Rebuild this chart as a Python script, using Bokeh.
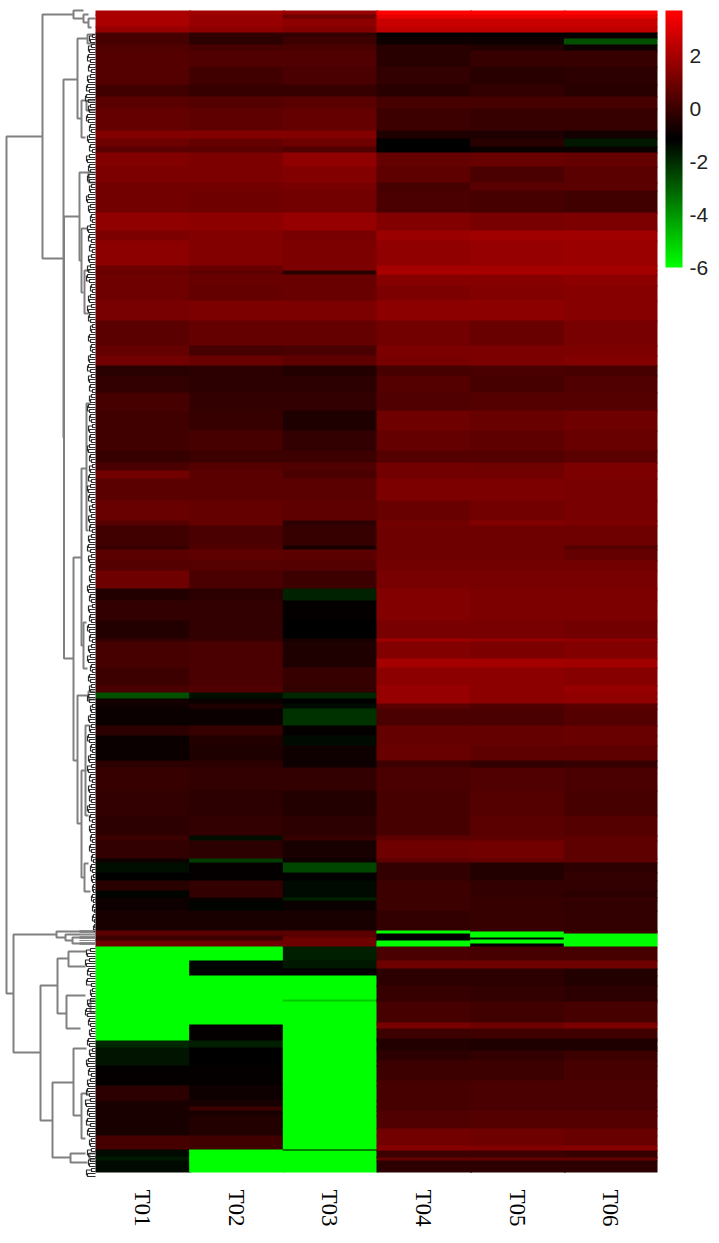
from bokeh.plotting import figure
from bokeh.models import (ColumnDataSource, LinearColorMapper, ColorBar, FixedTicker,
                          Range1d)
from bokeh.core.properties import value
from bokeh.embed import file_html
from bokeh.resources import INLINE
import math

samples = ["T01", "T02", "T03", "T04", "T05", "T06"]
first_row = 10

# number of rows in each horizontal band of the clustered heat map
band_rows = [
    4,4,8,6,4,2,6,6,16,18,12,12,22,8,8,6,14,16,8,
    22,18,10,25,5,4,11,15,20,25,10,10,10,
    17,18,20,20,12,8,8,22,20,5,20,4,11,
    10,18,12,20,18,3,17,9,18,7,6,5,5,17,10,10,
    15,7,23,25,20,5,18,4,10,8,10,7,3,10,20,
    1,2,2,2,2,1,3,3,14,8,7,10,14,2,21,2,4,10,2,7,3,10,5,15,5,15,6,4,5,13,7,10,4,1,6,1,3,12,
]
T01 = [
    2.08,2.08,2.08,1.70,.18,.18,.18,.37,.47,.47,.09,.56,.75,1.32,.94,.56,1.32,1.23,1.04,
    1.04,1.61,1.23,1.51,.94,.85,.94,.94,1.13,.56,.75,1.04,-.39,
    -.20,.18,.09,.09,-.10,.28,1.04,.56,.85,.47,.09,-.10,.56,
    .47,.94,-.48,-.20,-.48,-.20,.18,.18,-.01,.28,-2.67,-.77,-.86,-.96,-.29,-.96,
    -.96,-.29,-.10,-.20,-.29,-.01,-.20,-.86,-1.44,-1.15,-.39,-1.25,-.86,-.86,-.67,
    .56,.56,.56,-.01,-.01,-.01,.94,.94,-6,-6,-6,-6,-6,-6,-6,-6,-6,-6,-6,-1.91,-1.53,-1.53,-1.53,-1.05,-1.05,-.29,-.67,-.67,-.67,-.67,-.67,.18,.18,-1.34,-1.34,-1.63,-1.63,-1.34,
]
T02 = [
    1.89,1.70,1.70,1.51,-.20,-.29,-.29,.18,.37,.09,-.10,.47,.66,1.32,.75,.56,1.23,1.23,1.04,
    .94,1.51,1.32,1.32,.85,.66,.85,.75,1.23,.75,.18,.85,-.29,
    -.29,-.20,-.10,.18,-.01,.47,.56,.56,.75,.75,.28,.37,.66,
    .47,.28,-.29,-.20,-.20,-.10,.28,.28,.28,.37,-1.44,-.96,-.58,-.96,-.10,-.48,
    -.58,-.29,-.20,-.29,-.20,-1.44,-.29,-2.29,-1.05,-1.05,-.20,-.20,-.96,-1.25,-.67,
    .56,.56,.56,-.01,-.01,-.01,.94,.94,-6,-1.25,-1.25,-6,-6,-6,-6,-6,-1.05,-1.05,-1.05,-1.72,-1.15,-1.15,-1.15,-1.05,-1.05,-.86,-.67,-.01,-.67,-.48,-.48,.09,.09,-6,-6,-6,-6,-6,
]
T03 = [
    1.70,.94,1.51,1.32,-.20,-.01,-.01,.28,.37,.28,-.10,.56,.75,1.32,.94,.37,1.61,1.32,1.13,
    1.04,1.70,1.13,1.23,1.23,-.39,.85,.85,1.23,.75,.28,.66,-.48,
    -.29,-.20,-.58,-.20,-.01,.37,.28,.56,.66,-.29,-.10,-.67,.56,
    .47,-.01,-1.82,-1.05,-1.15,-.67,-.58,-.58,-.10,-.20,-1.91,-1.15,-1.34,-2.10,-1.05,-1.34,
    -.86,-.86,-.20,-.48,-.29,-.10,-.67,-.86,-2.48,-1.15,-1.34,-1.34,-1.82,-.96,-.67,
    .56,.56,.56,.56,.94,.94,.94,.94,-1.72,-1.63,-1.15,-6,-6,-4.95,-6,-6,-6,-6,-6,-6,-6,-6,-6,-6,-6,-6,-6,-6,-6,-6,-6,-6,-6,-1.15,-6,-6,-6,-6,
]
T04 = [
    3.7,3.22,2.65,2.46,-1.05,-.86,-.86,-.39,-.39,-.20,-.39,.18,-.01,-.58,-1.15,-1.15,.75,.66,.18,
    .28,1.32,1.80,1.61,1.99,2.08,1.42,1.23,1.51,1.04,1.23,1.13,.18,
    .47,.37,.94,.75,.47,1.04,1.04,1.23,.85,1.04,.94,.94,.94,
    1.04,1.13,1.32,1.32,1.13,1.89,1.32,1.99,1.51,1.70,1.70,1.70,.56,.28,.75,.75,
    .85,-.01,.28,.18,.18,.66,.94,.66,-.20,-.20,-.01,-.01,-.01,-.01,-.20,
    -6,-6,-1.15,-1.15,-1.15,-1.15,-6,-6,.28,.94,-.29,-.29,-.10,-.10,.18,1.13,1.13,-.01,-.48,-.48,-.48,-.29,-.01,-.01,.18,.18,.18,.18,.37,.37,1.04,1.04,1.42,1.42,-.01,-.01,.75,-.29,
]
T05 = [
    3.7,3.22,2.65,2.46,-1.05,-.86,-.86,-.48,-.10,-.39,-.20,.18,-.10,-.58,-.39,-.96,.85,.28,.56,
    .18,1.13,1.89,1.70,1.99,2.08,1.42,1.32,1.51,.85,1.23,1.23,.28,
    .18,.47,.85,.66,.47,.94,1.04,1.23,1.04,1.32,.94,.94,.94,
    1.04,1.13,1.23,1.23,1.13,1.70,1.23,1.99,1.51,1.51,1.51,1.51,.37,.28,.75,.75,
    .66,-.20,.37,.47,.56,.66,1.04,.75,-.48,-.48,-.20,-.20,-.10,-.10,-.10,
    -.01,-6,-6,-6,-1.15,-6,-6,-1.15,.18,.94,-.29,-.29,-.20,-.20,.09,.94,.94,.09,-.58,-.58,-.58,-.20,-.01,-.01,.28,.28,.28,.28,.47,.47,.94,.94,1.32,1.32,-.01,-.01,.75,-.29,
]
T06 = [
    3.7,3.22,2.65,2.46,-1.15,-.86,-2.67,-.86,-.10,-.29,-.39,.18,-.10,-.77,-1.63,-.96,.75,.56,.56,
    .09,1.23,1.89,1.80,1.99,1.99,1.51,1.42,1.42,1.13,1.23,1.32,.18,
    .37,.47,.94,.85,.56,1.23,1.23,1.13,1.13,1.23,.94,.47,.75,
    1.04,1.13,1.23,1.23,1.04,1.61,1.32,1.89,1.42,1.70,1.61,1.61,.56,.47,.85,.85,
    .66,-.10,.28,.18,.47,.66,.66,.66,-.29,-.20,-.20,-.29,-.10,-.20,-.20,
    -.01,-.01,-6,-6,-6,-6,-6,-6,.18,.94,-.48,-.48,-.29,-.29,.18,1.23,1.23,.09,-.58,-.58,-.58,-.01,.18,.18,.28,.28,.28,.28,.47,.47,.85,.85,1.42,1.42,-.10,-.10,.75,-.29,
]
columns = [T01, T02, T03, T04, T05, T06]

# main branches of the row dendrogram: merge height, the two child rows, the two child heights
link_height = [89,53,22,32,31.5,18,14,16,14,11,22,14,9,12,18,14,10,11,7,
               82,39,30,23,55,38,27,29,43,22,14,25,
               12,7,8,9,7,5,6]
link_row_a  = [136,14,10,79,216,38,100,172,228,270,557,468,403,622,695,770,725,863,691,
               934,931,934,937,985,958,951,995,1082,1048,1093,1153,
               14,18,34,100,172,1000,1153]
link_row_b  = [993,258,18,437,658,118,137,260,292,313,760,645,530,668,823,877,815,891,699,
               1052,937,940,943,1120,1013,966,1028,1157,1115,1138,1162,
               22,27,43,110,182,1012,1159]
link_child_a = [53,22,12,18,16,8,10,7,8,5,14,9,5,9,7,10,6,7,0,
                39,0,0,0,38,27,9,10,22,9,7,10,
                7,0,0,0,0,0,0]
link_child_b = [82,32,12,31.5,22,14,10,14,12,5,18,12,7,8,14,11,7,5,0,
                55,30,23,0,43,29,10,15,25,14,10,8,
                7,4,0,0,0,0,0]

# small leaf merges along the heat map edge, one merge height per leaf cluster
leaf_height_main = [
    3,5,4,6,7,5,6,4,5,7,8,6,9,7,5,6,8,7,5,4,6,7,5,3,6,8,6,5,7,6,4,5,7,8,5,6,4,3,5,7,
    6,4,5,3,4,6,5,7,8,6,4,3,5,6,4,7,6,5,3,4,6,5,4,3,5,6,7,5,4,6,5,3,4,5,7,6,5,4,3,6,
    5,4,6,7,5,4,3,5,6,4,5,7,6,4,3,5,4,6,5,3,4,6,7,5,4,6,5,3,4,5,6,7,5,4,3,6,5,4,7,6,
    5,3,4,6,5,7,4,3,6,5,4,5,7,6,3,4,5,6,4,5,7,6,4,3,5,6,4,7,5,3,4,6,5,4,6,7,5,3,4,5,
    4,3,5,4,3,2,4,3,2,3,2,2,3,2,2,1,2,1,1,1,
]
leaf_height_low = [
    5,8,6,9,7,5,8,4,3,4,5,7,9,8,6,5,4,5,7,6,3,5,7,8,6,4,5,7,8,6,5,9,7,6,8,5,7,6,4,5,
    4,7,5,6,4,8,
]
leaf_gray_rows = [930,932,934,936,938,940,942,944]

colorbar_ticks = [-6, -4, -2, 0, 2]
colorbar_labels = {-6: "-6", -4: "-4", -2: "-2", 0: "0", 2: "2"}

palette = []
for i in range(128):
    palette.append("#%02x%02x%02x" % (0, round(255 * (1 - i / 127)), 0))
for i in range(128):
    palette.append("#%02x%02x%02x" % (round(255 * i / 127), 0, 0))
mapper = LinearColorMapper(palette=palette, low=-6, high=3.7)

W, H = 719, 1243
COL_PX = 93.67
p = figure(width=W, height=H, output_backend="svg", toolbar_location=None,
           x_range=Range1d(-95 / COL_PX, (W - 95) / COL_PX),
           y_range=Range1d(first_row - 10 + H, first_row - 10),
           min_border=0, outline_line_color=None, background_fill_color="white",
           border_fill_color="white")
p.axis.visible = False
p.grid.visible = False
p.extra_x_ranges["tree"] = Range1d(95, 95 - W)

# each cell runs slightly under its lower and right neighbours, so no seam shows
left, right, top, bottom, val = [], [], [], [], []
last_band = len(band_rows) - 1
for c, col in enumerate(columns):
    row = first_row
    for b, (n, v) in enumerate(zip(band_rows, col, strict=True)):
        left.append(c); right.append(c + 1 if c == 5 else c + 1.02)
        top.append(row); bottom.append(row + n if b == last_band else row + n + 1)
        val.append(v)
        row += n
src = ColumnDataSource(dict(left=left, right=right, top=top, bottom=bottom, val=val))
p.quad(left="left", right="right", top="top", bottom="bottom", source=src,
       fill_color={"field": "val", "transform": mapper}, line_color=None)

# dendrogram
xs, ys = [], []
for h, a, b, ha, hb in zip(link_height, link_row_a, link_row_b, link_child_a, link_child_b, strict=True):
    xs.append([ha, h, h, hb])
    ys.append([a, a, b, b])
p.multi_line(xs, ys, x_range_name="tree", line_color="#808080", line_width=2)

lx, ly = [], []
for start, heights in ((34, leaf_height_main), (948, leaf_height_low)):
    for i, h in enumerate(heights):
        a = start + i * 5
        lx.append([0, h, h, 0]); ly.append([a, a, a + 3, a + 3])
        if i % 2 == 0 and i + 1 < len(heights):
            j = max(h, heights[i + 1]) + 1
            lx.append([h, j, j, heights[i + 1]])
            ly.append([a + 1.5, a + 1.5, a + 6.5, a + 6.5])
p.multi_line(lx, ly, x_range_name="tree", line_color="#2e2e2e", line_width=1.2)

gx = [[0, 16] for _ in leaf_gray_rows]
gy = [[r, r] for r in leaf_gray_rows]
p.multi_line(gx, gy, x_range_name="tree", line_color="#8c8c8c", line_width=1.2)

# sample labels
p.text(x=[i + 0.5 for i in range(6)], y=[1189] * 6, text=samples, angle=-math.pi / 2,
       text_font=value("Liberation Serif"), text_font_size="23px",
       text_align="left", text_baseline="middle", text_color="#000000")

cb = ColorBar(color_mapper=mapper, ticker=FixedTicker(ticks=colorbar_ticks),
              major_label_overrides=colorbar_labels,
              width=17, height=257, location=(665, 976), padding=0, margin=0,
              bar_line_color=None, major_tick_line_color=None, minor_tick_line_color=None,
              major_label_text_font="Liberation Sans", major_label_text_font_size="21px",
              major_label_text_color="#222222", label_standoff=7,
              background_fill_color=None, border_line_color=None)
p.add_layout(cb, "center")

open("out.html", "w").write(file_html(p, INLINE))
